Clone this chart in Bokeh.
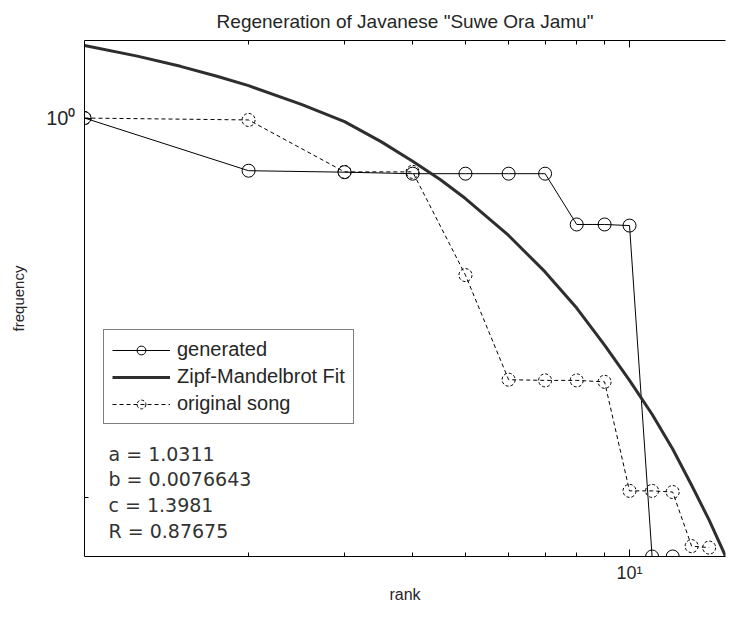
from bokeh.plotting import figure
from bokeh.models import FixedTicker, LogAxis, Legend, LegendItem, Label
from bokeh.embed import file_html
from bokeh.resources import INLINE

title_text = 'Regeneration of Javanese "Suwe Ora Jamu"'
x_label = "rank"
y_label = "frequency"

gen_rank = [1, 2, 3, 4, 5, 6, 7, 8, 9, 10, 11, 12]
gen_freq = [1.0, 0.80, 0.795, 0.79, 0.79, 0.79, 0.79, 0.637, 0.637, 0.634, 0.156, 0.156]

orig_rank = [1, 2, 3, 4, 5, 6, 7, 8, 9, 10, 11, 12, 13, 14]
orig_freq = [1.0, 0.992, 0.796, 0.796, 0.514, 0.330, 0.329, 0.329, 0.327,
             0.206, 0.206, 0.205, 0.163, 0.162]

fit_rank = [1, 1.25, 1.5, 1.75, 2, 2.5, 3, 3.5, 4, 4.5, 5, 6, 7, 8, 9, 10,
            11, 12, 13, 14, 15]
fit_freq = [1.36, 1.30, 1.245, 1.194, 1.147, 1.06, 0.985, 0.905, 0.833, 0.77,
            0.711, 0.608, 0.521, 0.447, 0.382, 0.329, 0.285, 0.246, 0.211,
            0.182, 0.1563]

fit_params = ["a = 1.0311", "b = 0.0076643", "c = 1.3981", "R = 0.87675"]

x_major = [10]
x_minor = [2, 3, 4, 5, 6, 7, 8, 9]
x_labels = {10: "10\u00b9"}
y_major = [1]
y_minor = [0.2]
y_labels = {1: "10\u2070"}

FONT = "Liberation Sans"
TXT = "#262626"

p = figure(width=726, height=605, x_axis_type="log", y_axis_type="log",
           x_range=(1, 15), y_range=(0.156, 1.389),
           output_backend="svg", toolbar_location=None,
           min_border_left=84, min_border_right=1, min_border_top=40, min_border_bottom=47)

p.title.text = title_text
p.title.align = "center"
p.title.offset = 13
p.title.standoff = 17
p.title.text_font = FONT
p.title.text_font_size = "19px"
p.title.text_font_style = "normal"
p.title.text_color = TXT

p.xgrid.visible = False
p.ygrid.visible = False
p.outline_line_color = None
p.background_fill_color = "white"
p.border_fill_color = "white"

xa = p.xaxis[0]
xa.ticker = FixedTicker(ticks=x_major, minor_ticks=x_minor)
xa.major_label_overrides = x_labels
xa.axis_label = x_label
xa.major_label_text_font_size = "18px"
xa.axis_label_text_font_size = "16px"
xa.major_label_standoff = 6
xa.axis_label_standoff = 0

ya = p.yaxis[0]
ya.ticker = FixedTicker(ticks=y_major, minor_ticks=y_minor)
ya.major_label_overrides = y_labels
ya.axis_label = y_label
ya.major_label_text_font_size = "20px"
ya.axis_label_text_font_size = "15px"
ya.major_label_standoff = 9
ya.axis_label_standoff = 16

for ax in (xa, ya):
    ax.axis_line_color = "black"
    ax.axis_line_width = 1
    ax.major_tick_in = 7
    ax.major_tick_out = 0
    ax.minor_tick_in = 4
    ax.minor_tick_out = 0
    ax.major_tick_line_color = "black"
    ax.minor_tick_line_color = "black"
    ax.major_label_text_font = FONT
    ax.major_label_text_color = TXT
    ax.axis_label_text_font = FONT
    ax.axis_label_text_font_style = "normal"
    ax.axis_label_text_color = TXT

top = LogAxis(ticker=FixedTicker(ticks=x_major, minor_ticks=x_minor),
              major_label_text_font_size="1px", major_label_text_alpha=0,
              major_label_standoff=0,
              major_tick_in=7, major_tick_out=0, minor_tick_in=4, minor_tick_out=0,
              axis_line_color="black", axis_line_width=1,
              major_tick_line_color="black", minor_tick_line_color="black")
p.add_layout(top, "above")

g_line = p.line(gen_rank, gen_freq, line_color="black", line_width=1)
g_pts = p.scatter(gen_rank, gen_freq, marker="circle", size=13, fill_color=None,
                  line_color="black", line_width=1)
f_line = p.line(fit_rank, fit_freq, line_color="#2e2e2e", line_width=3)
o_line = p.line(orig_rank, orig_freq, line_color="black", line_width=1, line_dash="4 3")
o_pts = p.scatter(orig_rank, orig_freq, marker="circle", size=13, fill_color=None,
                  line_color="black", line_width=1, line_dash="3 2")

legend = Legend(items=[
    LegendItem(label="generated", renderers=[g_line, g_pts]),
    LegendItem(label="Zipf-Mandelbrot Fit", renderers=[f_line]),
    LegendItem(label="original song", renderers=[o_line, o_pts]),
], location=(19, 132))
legend.border_line_color = "black"
legend.border_line_width = 1
legend.background_fill_color = "white"
legend.background_fill_alpha = 1
legend.label_text_font = FONT
legend.label_text_font_size = "20px"
legend.label_text_color = TXT
legend.glyph_width = 58
legend.glyph_height = 22
legend.label_height = 22
legend.spacing = 4
legend.padding = 8
legend.label_standoff = 7
legend.margin = 0
p.add_layout(legend)

for i, t in enumerate(fit_params):
    p.add_layout(Label(x=24, y=103 - 25.7 * i, x_units="screen", y_units="screen",
                       text=t, text_font="DejaVu Sans", text_font_size="19px",
                       text_color="#333333", text_baseline="middle"))

open("out.html", "w").write(file_html(p, INLINE))
